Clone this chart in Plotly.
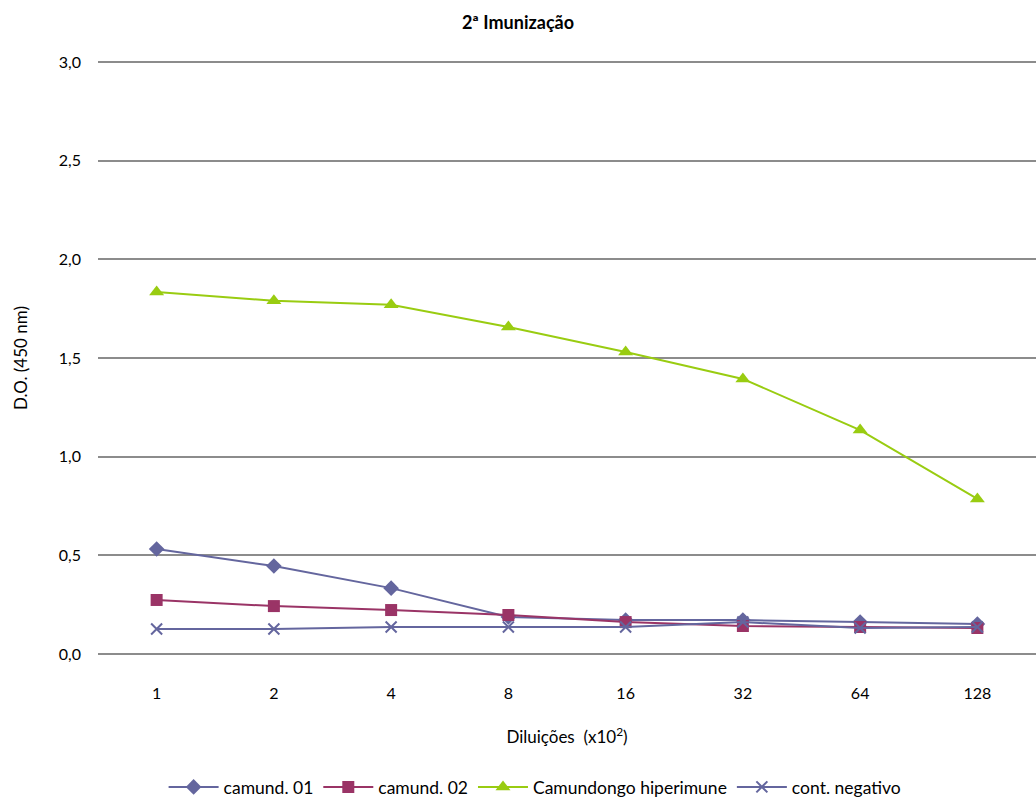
import plotly.graph_objects as go

diluicoes = ["1", "2", "4", "8", "16", "32", "64", "128"]
camund_01 = [0.532, 0.446, 0.334, 0.188, 0.172, 0.172, 0.162, 0.152]
camund_02 = [0.274, 0.243, 0.223, 0.198, 0.162, 0.142, 0.137, 0.132]
hiperimune = [1.835, 1.79, 1.77, 1.657, 1.53, 1.394, 1.135, 0.786]
cont_negativo = [0.127, 0.127, 0.137, 0.137, 0.137, 0.162, 0.132, 0.137]

font = "Lato, 'Open Sans', sans-serif"

fig = go.Figure()
fig.add_trace(go.Scatter(x=diluicoes, y=camund_01, name="camund. 01", mode="lines+markers",
                         line=dict(color="#64669e", width=2),
                         marker=dict(symbol="diamond", size=12, color="#64669e")))
fig.add_trace(go.Scatter(x=diluicoes, y=camund_02, name="camund. 02", mode="lines+markers",
                         line=dict(color="#9a3466", width=2),
                         marker=dict(symbol="square", size=12, color="#9a3466")))
fig.add_trace(go.Scatter(x=diluicoes, y=hiperimune, name="Camundongo hiperimune", mode="lines+markers",
                         line=dict(color="#99cc11", width=2),
                         marker=dict(symbol="triangle-up", size=13, color="#99cc11")))
fig.add_trace(go.Scatter(x=diluicoes, y=cont_negativo, name="cont. negativo", mode="lines+markers",
                         line=dict(color="#64669e", width=2),
                         marker=dict(symbol="x-thin-open", size=11, color="#64669e",
                                     line=dict(color="#64669e", width=2))))

fig.update_layout(
    width=1036, height=800,
    paper_bgcolor="white", plot_bgcolor="white",
    margin=dict(l=98, r=0, t=58, b=142, autoexpand=False),
    separators=",.",
    font=dict(family=font, size=16, color="black"),
    title=dict(text="<b>2ª Imunização</b>", x=0.5, xanchor="center", y=0.972, yanchor="middle",
               font=dict(family=font, size=18, color="black")),
    xaxis=dict(type="category", range=[-0.5, 7.5], showgrid=False, showline=False,
               ticks="", zeroline=False, ticklabelstandoff=24,
               title=dict(text="Diluições  (x10<sup>2</sup>)", standoff=30, font=dict(size=17)),
               tickfont=dict(size=16)),
    yaxis=dict(range=[-0.02, 3.02], tickvals=[0, 0.5, 1.0, 1.5, 2.0, 2.5, 3.0],
               tickformat=".1f", showgrid=True,
               gridcolor="#8c8c8c", gridwidth=2, zeroline=False, showline=False, ticks="",
               ticklabelstandoff=16,
               title=dict(text="D.O. (450 nm)", standoff=26, font=dict(size=17)),
               tickfont=dict(size=16)),
    legend=dict(orientation="h", x=0.466, xanchor="center", y=-0.215, yanchor="middle",
                font=dict(size=17.5), itemwidth=50, traceorder="normal"),
    showlegend=True,
)

fig.write_html("out.html")
